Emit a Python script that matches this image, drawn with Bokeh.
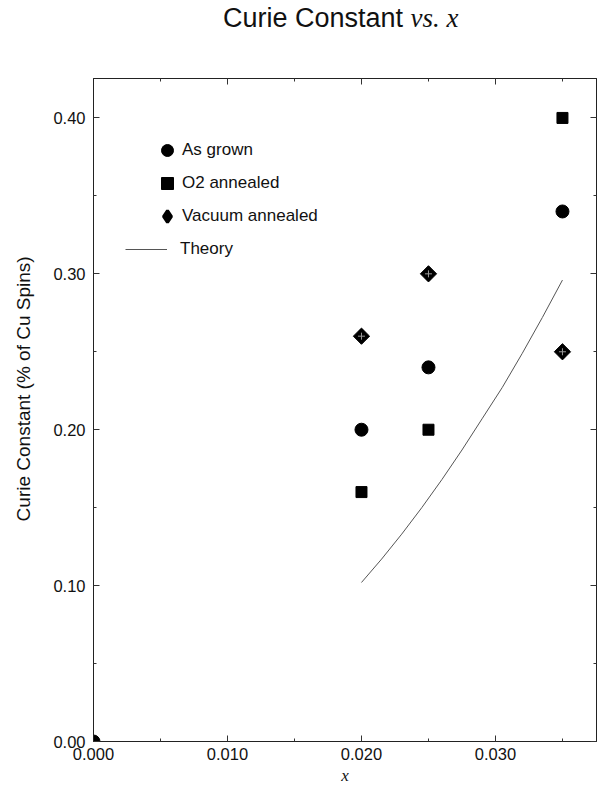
import math
from bokeh.plotting import figure
from bokeh.layouts import column
from bokeh.models import (Range1d, LinearAxis, FixedTicker, PrintfTickFormatter,
                          Legend, LegendItem, Div)
from bokeh.embed import file_html
from bokeh.resources import INLINE

# ---- data ----
as_grown_x = [0.000, 0.020, 0.025, 0.035]
as_grown_y = [0.00, 0.20, 0.24, 0.34]
o2_x = [0.020, 0.025, 0.035]
o2_y = [0.16, 0.20, 0.40]
vac_x = [0.020, 0.025, 0.035]
vac_y = [0.26, 0.30, 0.25]
theory_x = [0.020, 0.0215, 0.023, 0.0245, 0.026, 0.0275, 0.029, 0.0305,
            0.032, 0.0335, 0.035]
theory_y = [0.102, 0.117, 0.133, 0.150, 0.168, 0.187, 0.207, 0.227,
            0.249, 0.272, 0.296]
x_ticks = [0.000, 0.010, 0.020, 0.030]
x_minor = [0.005, 0.015, 0.025, 0.035]
y_ticks = [0.00, 0.10, 0.20, 0.30, 0.40]
y_minor = [0.05, 0.15, 0.25, 0.35]

SANS = "Liberation Sans"
SERIF = "Liberation Serif"

title_div = Div(
    text=('<div style="margin-left:223px;margin-top:3px;line-height:30px;'
          'white-space:nowrap;color:#111111;font-size:27px;">'
          '<span style="font-family:\'Liberation Sans\';">Curie Constant</span> '
          '<span style="font-family:\'Liberation Serif\';font-style:italic;">vs. x</span>'
          '</div>'),
    width=597, height=40, margin=0)

p = figure(width=597, height=748, output_backend="svg", toolbar_location=None,
           x_range=Range1d(0, 0.03754), y_range=Range1d(0, 0.4253),
           min_border_left=93, min_border_right=1, min_border_top=38,
           min_border_bottom=47, x_axis_location=None, y_axis_location=None)
p.xgrid.visible = False
p.ygrid.visible = False
p.outline_line_color = "#222222"
p.outline_line_width = 1

def style(ax, ticks, minor, fmt):
    ax.ticker = FixedTicker(ticks=ticks, minor_ticks=minor)
    ax.formatter = PrintfTickFormatter(format=fmt)
    ax.major_tick_in = 6
    ax.major_tick_out = 0
    ax.minor_tick_in = 3
    ax.minor_tick_out = 0
    ax.axis_line_color = "#222222"
    ax.major_tick_line_color = "#333333"
    ax.minor_tick_line_color = "#333333"
    ax.major_label_text_font = SANS
    ax.major_label_text_font_size = "16.5px"
    ax.major_label_text_color = "#111111"

xb = LinearAxis(axis_label="x")
style(xb, x_ticks, x_minor, "%.3f")
xb.major_label_standoff = 6
xb.axis_label_standoff = 3
xb.axis_label_text_font = SERIF
xb.axis_label_text_font_style = "italic"
xb.axis_label_text_font_size = "17px"
xb.axis_label_text_color = "#111111"

yl = LinearAxis(axis_label="\u00a0" * 8 + "Curie Constant (% of Cu Spins)")
style(yl, y_ticks, y_minor, "%.2f")
yl.major_label_standoff = 8
yl.axis_label_standoff = 16
yl.axis_label_text_font = SANS
yl.axis_label_text_font_style = "normal"
yl.axis_label_text_font_size = "19px"
yl.axis_label_text_color = "#111111"

# frame ticks on the top and right edges (no labels)
xt = LinearAxis()
style(xt, x_ticks, x_minor, "%.3f")
xt.major_label_overrides = {t: "" for t in x_ticks}
xt.major_label_standoff = 0
yr = LinearAxis()
style(yr, y_ticks, y_minor, "%.2f")
yr.major_label_overrides = {t: "" for t in y_ticks}
yr.major_label_standoff = 0

p.add_layout(xb, "below")
p.add_layout(yl, "left")
p.add_layout(xt, "above")
p.add_layout(yr, "right")

# ---- glyphs ----
r_theory = p.line(theory_x, theory_y, line_color="#555555", line_width=1)
r_as = p.scatter(as_grown_x, as_grown_y, marker="circle", size=13,
                 fill_color="black", line_color="black")
r_o2 = p.scatter(o2_x, o2_y, marker="square", size=11,
                 fill_color="black", line_color="black")
# legend-only diamond, hidden beneath the rotated squares in the plot
r_vac_leg = p.scatter(vac_x, vac_y, marker="diamond", size=12, line_width=3,
                      fill_color="black", line_color="black")
p.scatter(vac_x, vac_y, marker="square", size=11.5, angle=math.pi / 4,
          fill_color="black", line_color="black")
p.scatter(vac_x, vac_y, marker="cross", size=7, line_color="#9a9a9a", line_width=1)

# ---- legends ----
leg1 = Legend(items=[LegendItem(label="As grown", renderers=[r_as]),
                     LegendItem(label="O2 annealed", renderers=[r_o2]),
                     LegendItem(label="Vacuum annealed", renderers=[r_vac_leg])],
              location=(59, 510), glyph_width=30, glyph_height=30,
              label_height=30, spacing=3, padding=0, margin=0,
              label_standoff=0, border_line_color=None,
              background_fill_alpha=0, label_text_font=SANS,
              label_text_font_size="17px", label_text_color="#111111")
leg2 = Legend(items=[LegendItem(label="Theory", renderers=[r_theory])],
              location=(32, 482), glyph_width=42, glyph_height=20,
              label_height=20, spacing=0, padding=0, margin=0,
              label_standoff=13, border_line_color=None,
              background_fill_alpha=0, label_text_font=SANS,
              label_text_font_size="17px", label_text_color="#111111")
p.add_layout(leg1)
p.add_layout(leg2)

layout = column(title_div, p, spacing=0)
open("out.html", "w").write(file_html(layout, INLINE))
